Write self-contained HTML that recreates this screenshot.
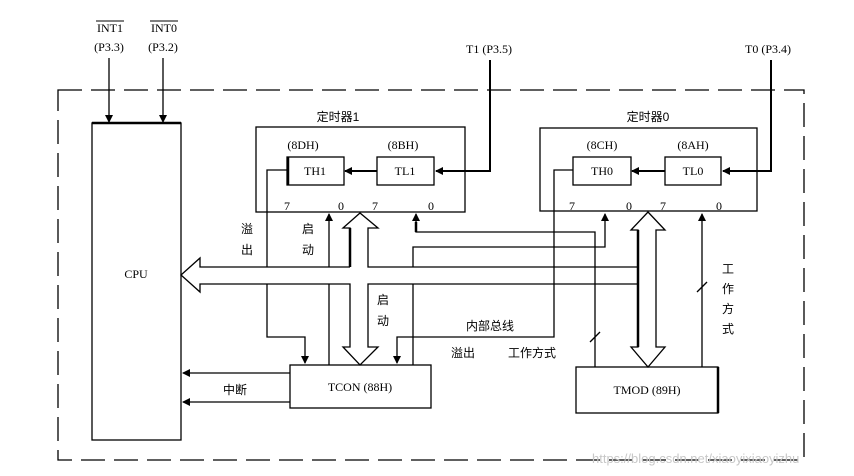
<!DOCTYPE html>
<html><head><meta charset="utf-8"><style>
html,body{margin:0;padding:0;background:#fff}
svg{display:block}
text{font-family:"Liberation Serif","Noto Serif CJK SC","Noto Sans CJK SC",serif;font-size:12px;fill:#000}
.c{font-family:"Liberation Sans","Noto Sans CJK SC",sans-serif;font-size:12px}
</style></head><body>
<svg width="854" height="476" viewBox="0 0 854 476" xmlns="http://www.w3.org/2000/svg">
<defs>
<marker id="a" markerWidth="8" markerHeight="8" refX="7" refY="4" orient="auto" markerUnits="userSpaceOnUse"><path d="M0,0 L8,4 L0,8 z" fill="#000"/></marker>
</defs>
<g fill="none" stroke="#000" stroke-width="1.3">
<!-- dashed border -->
<rect x="58" y="90" width="746" height="370" stroke-dasharray="24,9"/>
<!-- CPU -->
<rect x="92" y="123" width="89" height="317"/>
<line x1="92" y1="123" x2="181" y2="123" stroke-width="2.5"/>
<!-- INT lines -->
<line x1="109" y1="58" x2="109" y2="122" marker-end="url(#a)"/>
<line x1="163" y1="58" x2="163" y2="122" marker-end="url(#a)"/>
<!-- timer1 -->
<rect x="256" y="127" width="209" height="85"/>
<rect x="287" y="157" width="57" height="28"/>
<line x1="288" y1="157" x2="288" y2="185" stroke-width="2.5"/>
<rect x="377" y="157" width="57" height="28"/>
<line x1="377" y1="171" x2="345" y2="171" stroke-width="2" marker-end="url(#a)"/>
<polyline points="490,60 490,171 436,171" stroke-width="2" marker-end="url(#a)"/>
<!-- timer0 -->
<rect x="540" y="128" width="217" height="83"/>
<rect x="573" y="157" width="58" height="28"/>
<rect x="665" y="157" width="56" height="28"/>
<line x1="665" y1="171" x2="632" y2="171" stroke-width="2" marker-end="url(#a)"/>
<polyline points="771,60 771,171 723,171" stroke-width="2" marker-end="url(#a)"/>
<!-- bus -->
<polyline points="350,267 200,267 200,258 181,275 200,292 200,284 350,284 350,347 343,347 360,365 378,347 368,347 368,284 638,284 638,347 631,347 648,367 665,347 656,347 656,230 665,230 648,212 631,230 638,230 638,267 368,267 368,228 378,228 360,213 343,228 350,228 350,267"/>
<line x1="638" y1="230" x2="638" y2="347" stroke-width="2.5"/>
<line x1="350" y1="228" x2="350" y2="267" stroke-width="2.5"/>
<!-- TH1 overflow -->
<polyline points="287,170 267,170 267,267"/>
<polyline points="267,284 267,337 305,337 305,363" marker-end="url(#a)"/>
<!-- TR1 start -->
<line x1="329" y1="267" x2="329" y2="214" marker-end="url(#a)"/>
<line x1="329" y1="284" x2="329" y2="365"/>
<!-- TL1 mode -->
<polyline points="595,367 595,232 416,232 416,214" marker-end="url(#a)"/>
<line x1="416" y1="232" x2="416" y2="222" stroke-width="2.5"/>
<!-- TH0 start -->
<polyline points="413,267 413,247 605,247 605,214" marker-end="url(#a)"/>
<line x1="413" y1="284" x2="413" y2="365"/>
<!-- TH0 overflow -->
<polyline points="573,170 554,170 554,337 397,337 397,363" marker-end="url(#a)"/>
<!-- TL0 mode -->
<line x1="702" y1="367" x2="702" y2="214" marker-end="url(#a)"/>
<line x1="590" y1="342" x2="600" y2="332"/>
<line x1="697" y1="292" x2="707" y2="282"/>
<!-- TCON -->
<rect x="290" y="365" width="141" height="43"/>
<line x1="290" y1="373" x2="183" y2="373" marker-end="url(#a)"/>
<line x1="290" y1="402" x2="183" y2="402" marker-end="url(#a)"/>
<!-- TMOD -->
<rect x="576" y="367" width="142" height="46"/>
<line x1="718" y1="367" x2="718" y2="413" stroke-width="2.5"/>
</g>
<g>
<text x="110" y="32" text-anchor="middle">INT1</text>
<line x1="96" y1="21" x2="124" y2="21" stroke="#000"/>
<text x="109" y="51" text-anchor="middle">(P3.3)</text>
<text x="164" y="32" text-anchor="middle">INT0</text>
<line x1="150" y1="21" x2="178" y2="21" stroke="#000"/>
<text x="163" y="51" text-anchor="middle">(P3.2)</text>
<text x="489" y="53" text-anchor="middle">T1 (P3.5)</text>
<text x="768" y="53" text-anchor="middle">T0 (P3.4)</text>
<text x="136" y="278" text-anchor="middle">CPU</text>
<text x="338" y="121" text-anchor="middle" class="c">定时器1</text>
<text x="303" y="149" text-anchor="middle">(8DH)</text>
<text x="403" y="149" text-anchor="middle">(8BH)</text>
<text x="315" y="175" text-anchor="middle">TH1</text>
<text x="405" y="175" text-anchor="middle">TL1</text>
<text x="284" y="210">7</text><text x="338" y="210">0</text><text x="372" y="210">7</text><text x="428" y="210">0</text>
<text x="648" y="121" text-anchor="middle" class="c">定时器0</text>
<text x="602" y="149" text-anchor="middle">(8CH)</text>
<text x="693" y="149" text-anchor="middle">(8AH)</text>
<text x="602" y="175" text-anchor="middle">TH0</text>
<text x="693" y="175" text-anchor="middle">TL0</text>
<text x="569" y="210">7</text><text x="626" y="210">0</text><text x="660" y="210">7</text><text x="716" y="210">0</text>
<text x="247" y="233" text-anchor="middle" class="c">溢</text>
<text x="247" y="254" text-anchor="middle" class="c">出</text>
<text x="308" y="233" text-anchor="middle" class="c">启</text>
<text x="308" y="254" text-anchor="middle" class="c">动</text>
<text x="383" y="304" text-anchor="middle" class="c">启</text>
<text x="383" y="325" text-anchor="middle" class="c">动</text>
<text x="490" y="330" text-anchor="middle" class="c">内部总线</text>
<text x="463" y="357" text-anchor="middle" class="c">溢出</text>
<text x="532" y="357" text-anchor="middle" class="c">工作方式</text>
<text x="728" y="273" text-anchor="middle" class="c">工</text>
<text x="728" y="293" text-anchor="middle" class="c">作</text>
<text x="728" y="313" text-anchor="middle" class="c">方</text>
<text x="728" y="333" text-anchor="middle" class="c">式</text>
<text x="235" y="394" text-anchor="middle" class="c">中断</text>
<text x="360" y="391" text-anchor="middle">TCON (88H)</text>
<text x="647" y="394" text-anchor="middle">TMOD (89H)</text>
<text x="592" y="463" class="c" style="fill:#c8c8c8;font-size:13px">https://blog.csdn.net/xiaoyixiaoyizhu</text>
</g>
</svg>
</body></html>
